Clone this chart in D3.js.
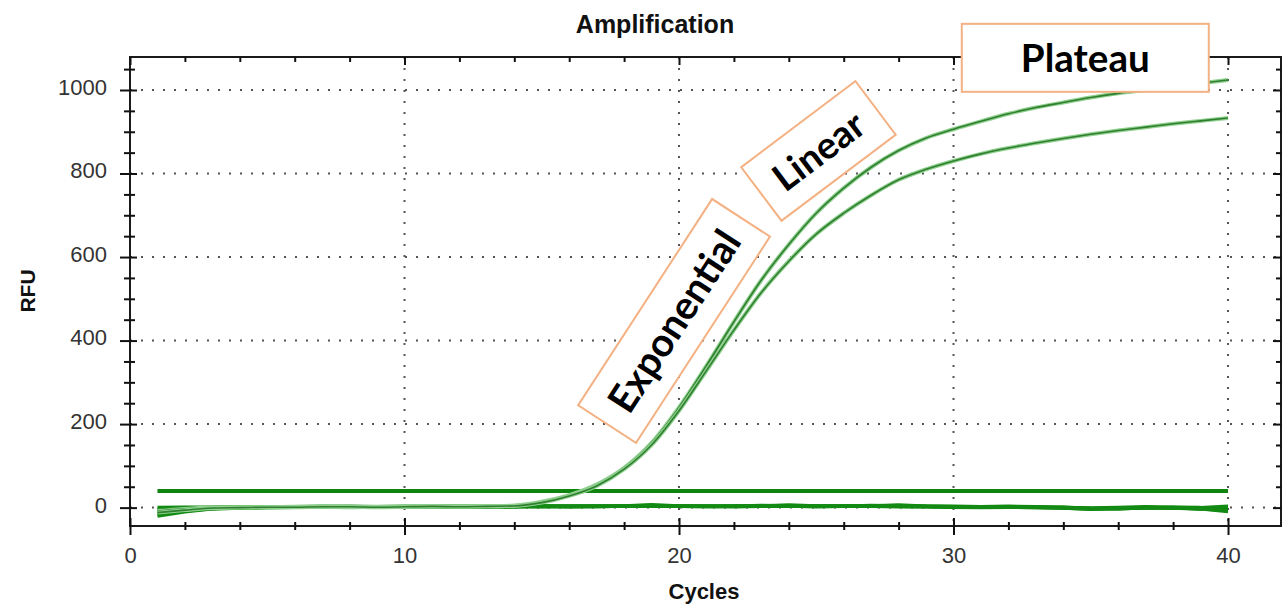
<!DOCTYPE html>
<html lang="en">
<head>
<meta charset="UTF-8">
<script src="https://d3js.org/d3.v7.min.js"></script>
<style>
body { margin: 0; background: #fff; }
</style>
</head>
<body>
<div id="chart"></div>
<script>
// values
const cycles = [1, 2, 3, 4, 5, 6, 7, 8, 9, 10, 11, 12, 13, 14, 15, 16, 17, 18, 19, 20,
  21, 22, 23, 24, 25, 26, 27, 28, 29, 30, 31, 32, 33, 34, 35, 36, 37, 38, 39, 40];

const sampleA = [-8, -3, 0, 1, 1, 2, 2, 1, 2, 2, 2, 3, 3, 5, 14, 30, 55, 95, 155, 240,
  340, 445, 545, 630, 705, 765, 815, 855, 885, 906, 925, 943, 958, 970, 982, 992, 1000, 1008, 1016, 1024];
const sampleB = [-12, -6, -1, 0, 1, 1, 2, 2, 1, 2, 3, 2, 3, 4, 12, 28, 52, 92, 150, 232,
  328, 425, 515, 590, 655, 705, 748, 785, 810, 830, 847, 861, 873, 884, 894, 903, 911, 919, 926, 933];

const base1 = [0, 1, 1, 2, 1, 2, 3, 2, 1, 2, 3, 2, 2, 3, 4, 3, 2, 4, 7, 4,
  3, 3, 4, 6, 4, 3, 4, 6, 3, 2, 2, 3, 2, 0, -1, 0, 2, 0, -1, -2];
const base2 = [-5, -2, 0, 1, 0, 1, 2, 2, 1, 1, 2, 3, 2, 2, 3, 2, 3, 4, 5, 3,
  2, 3, 5, 4, 3, 3, 5, 4, 3, 2, 1, 2, 1, -1, -3, -1, 0, 1, 0, 3];
const base3 = [-10, -5, -1, 0, 1, 2, 1, 2, 2, 3, 2, 1, 2, 3, 2, 3, 4, 3, 4, 3,
  3, 4, 3, 4, 2, 3, 4, 3, 2, 3, 2, 1, 0, 1, -2, -3, 0, -1, -2, -6];
const base4 = [-15, -8, -2, 0, 1, 1, 2, 3, 2, 2, 1, 2, 3, 2, 3, 4, 3, 3, 4, 4,
  3, 2, 3, 4, 3, 4, 3, 4, 3, 2, 1, 2, 1, 0, -2, -1, -1, 0, -3, -9];
const base5 = [-20, -10, -3, -1, 0, 1, 1, 2, 1, 2, 2, 3, 2, 3, 3, 2, 3, 3, 3, 4,
  3, 3, 4, 3, 4, 3, 3, 2, 2, 1, 0, 1, 0, -1, -4, -2, -1, -1, -3, -7];

const threshold = 40;

const xMajor = [0, 10, 20, 30, 40];
const xMinor = [2, 4, 6, 8, 12, 14, 16, 18, 22, 24, 26, 28, 32, 34, 36, 38];
const yMajor = [0, 200, 400, 600, 800, 1000];
const yMinor = [50, 100, 150, 250, 300, 350, 450, 500, 550, 650, 700, 750, 850, 900, 950, 1050];

// phase notes: label and centre (cycle, RFU)
const phaseNames = ["Exponential", "Linear", "Plateau"];
const phaseAt = [[19.82, 447], [25.08, 854], [34.8, 1077]];

const width = 1287, height = 606;
const plotL = 130, plotR = 1281, plotT = 57, plotB = 526;

const svg = d3.select("#chart").append("svg")
  .attr("width", width)
  .attr("height", height);

const x = d3.scaleLinear().domain([0, 41.93]).range([plotL, plotR]);
const y = d3.scaleLinear().domain([-44, 1079]).range([plotB, plotT]);

// dotted grid
const grid = svg.append("g")
  .attr("stroke", "#555")
  .attr("stroke-width", 2)
  .attr("stroke-dasharray", "2,9");
grid.selectAll(".gx").data(xMajor.slice(1)).enter().append("line")
  .attr("x1", d => x(d)).attr("x2", d => x(d))
  .attr("y1", plotT).attr("y2", plotB);
grid.selectAll(".gy").data(yMajor).enter().append("line")
  .attr("x1", plotL).attr("x2", plotR)
  .attr("y1", d => y(d)).attr("y2", d => y(d));

// traces
const line = d3.line()
  .x((d, i) => x(cycles[i]))
  .y(d => y(d));
const smooth = d3.line()
  .x((d, i) => x(cycles[i]))
  .y(d => y(d))
  .curve(d3.curveMonotoneX);

svg.append("g").selectAll("path")
  .data([base1, base2, base3, base4, base5])
  .enter().append("path")
  .attr("d", line)
  .attr("fill", "none")
  .attr("stroke", "#138a13")
  .attr("stroke-width", 3.5);

svg.append("line")
  .attr("x1", x(1)).attr("x2", x(40))
  .attr("y1", y(threshold)).attr("y2", y(threshold))
  .attr("stroke", "#0f850f")
  .attr("stroke-width", 4);

const amp = svg.append("g");
[sampleA, sampleB].forEach(s => {
  amp.append("path").attr("d", smooth(s))
    .attr("fill", "none").attr("stroke", "#8fd08f").attr("stroke-width", 4);
  amp.append("path").attr("d", smooth(s))
    .attr("fill", "none").attr("stroke", "#2f7f2f").attr("stroke-width", 1.6);
});

// frame
svg.append("rect")
  .attr("x", plotL).attr("y", plotT)
  .attr("width", plotR - plotL).attr("height", plotB - plotT)
  .attr("fill", "none")
  .attr("stroke", "#1a1a1a")
  .attr("stroke-width", 2);

const font = "'Liberation Sans', Arial, sans-serif";

// left axis
const yAxis = svg.append("g").attr("transform", `translate(${plotL},0)`)
  .call(d3.axisLeft(y).tickValues(yMajor).tickFormat(d3.format("d")).tickSize(10).tickPadding(13));
yAxis.select(".domain").remove();
yAxis.selectAll("line").attr("x1", 7).attr("stroke", "#111").attr("stroke-width", 2);
yAxis.selectAll("text").attr("font-family", font).attr("font-size", 22)
  .attr("fill", "#333").attr("dy", "0.2em");

const yAxisMinor = svg.append("g").attr("transform", `translate(${plotL},0)`)
  .call(d3.axisLeft(y).tickValues(yMinor).tickSize(6).tickFormat(""));
yAxisMinor.select(".domain").remove();
yAxisMinor.selectAll("line").attr("x1", 5).attr("stroke", "#111").attr("stroke-width", 2);

// bottom axis
const xAxis = svg.append("g").attr("transform", `translate(0,${plotB})`)
  .call(d3.axisBottom(x).tickValues(xMajor).tickFormat(d3.format("d")).tickSize(9));
xAxis.select(".domain").remove();
xAxis.selectAll("line").attr("y1", -8).attr("stroke", "#111").attr("stroke-width", 2);
xAxis.selectAll("text").attr("font-family", font).attr("font-size", 22)
  .attr("fill", "#333").attr("y", 37).attr("dy", 0);

const xAxisMinor = svg.append("g").attr("transform", `translate(0,${plotB})`)
  .call(d3.axisBottom(x).tickValues(xMinor).tickSize(4).tickFormat(""));
xAxisMinor.select(".domain").remove();
xAxisMinor.selectAll("line").attr("y1", -4).attr("stroke", "#111").attr("stroke-width", 2);

// top and right axes, ticks inward
const topAxis = svg.append("g").attr("transform", `translate(0,${plotT})`)
  .call(d3.axisBottom(x).tickValues(xMajor).tickSize(8).tickFormat(""));
topAxis.select(".domain").remove();
topAxis.selectAll("line").attr("stroke", "#111").attr("stroke-width", 2);
const topMinor = svg.append("g").attr("transform", `translate(0,${plotT})`)
  .call(d3.axisBottom(x).tickValues(xMinor).tickSize(5).tickFormat(""));
topMinor.select(".domain").remove();
topMinor.selectAll("line").attr("stroke", "#111").attr("stroke-width", 2);

const rightAxis = svg.append("g").attr("transform", `translate(${plotR},0)`)
  .call(d3.axisLeft(y).tickValues(yMajor).tickSize(8).tickFormat(""));
rightAxis.select(".domain").remove();
rightAxis.selectAll("line").attr("stroke", "#111").attr("stroke-width", 2);
const rightMinor = svg.append("g").attr("transform", `translate(${plotR},0)`)
  .call(d3.axisLeft(y).tickValues(yMinor).tickSize(5).tickFormat(""));
rightMinor.select(".domain").remove();
rightMinor.selectAll("line").attr("stroke", "#111").attr("stroke-width", 2);

// titles
svg.append("text")
  .attr("x", 655).attr("y", 33)
  .attr("text-anchor", "middle")
  .attr("font-family", font).attr("font-weight", "bold").attr("font-size", 25)
  .attr("fill", "#111")
  .text("Amplification");

svg.append("text")
  .attr("x", 704).attr("y", 599)
  .attr("text-anchor", "middle")
  .attr("font-family", font).attr("font-weight", "bold").attr("font-size", 22)
  .attr("fill", "#111")
  .text("Cycles");

svg.append("text")
  .attr("transform", "translate(35,291) rotate(-90)")
  .attr("text-anchor", "middle")
  .attr("font-family", font).attr("font-weight", "bold").attr("font-size", 21)
  .attr("fill", "#111")
  .text("RFU");

// phase boxes
const boxW = [246, 143, 247];
const boxH = [69, 67, 68];
const boxAngle = [-57, -37, 0];
const textW = [208, 104, 129];

phaseNames.forEach((name, i) => {
  const g = svg.append("g")
    .attr("transform", `translate(${x(phaseAt[i][0])},${y(phaseAt[i][1])}) rotate(${boxAngle[i]})`);
  g.append("rect")
    .attr("x", -boxW[i] / 2).attr("y", -boxH[i] / 2)
    .attr("width", boxW[i]).attr("height", boxH[i])
    .attr("fill", "#fff")
    .attr("stroke", "#f4b183")
    .attr("stroke-width", 2);
  const t = g.append("text")
    .attr("text-anchor", "middle")
    .attr("dy", "0.36em")
    .attr("font-family", "Lato, 'Open Sans', sans-serif")
    .attr("font-weight", "bold")
    .attr("font-size", 40)
    .attr("fill", "#000")
    .text(name);
  const w = t.node().getComputedTextLength();
  t.attr("font-size", 40 * textW[i] / w);
});
</script>
</body>
</html>
